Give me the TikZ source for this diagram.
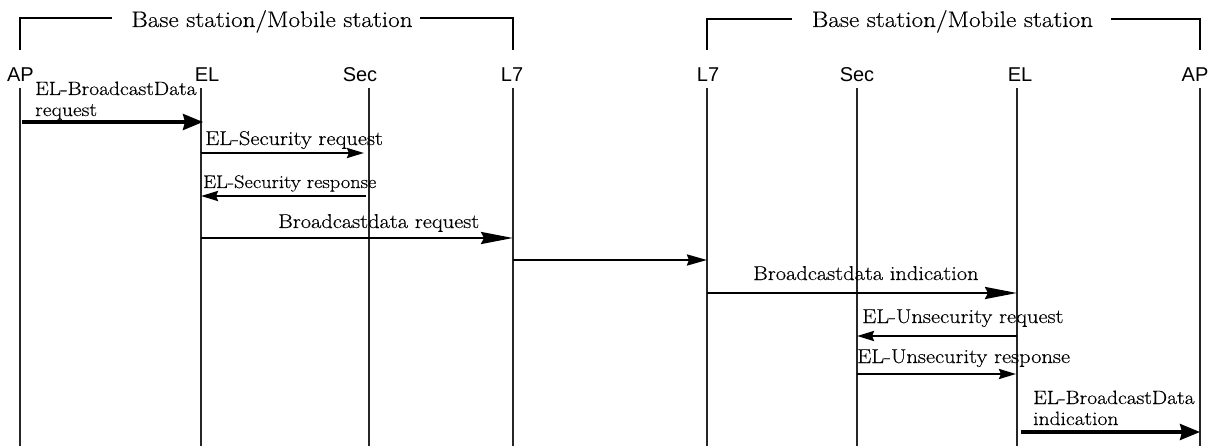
\documentclass[tikz,border=0pt]{standalone}
\usepackage{fontspec}
\newfontfamily\lifefont{Liberation Sans}
\newfontfamily\serifwide{Latin Modern Roman}[FakeStretch=1.12,FakeBold=0.4]
\usetikzlibrary{arrows.meta}

\tikzset{
  lifeline/.style={line width=1.2pt, draw=black!85},
  bracket/.style={line width=1.1pt},
  msg/.style={line width=2.5pt, -{Stealth[length=17pt,width=10pt,inset=2pt]}},
  longmsg/.style={line width=2.5pt, -{Stealth[length=32pt,width=12pt,inset=3pt]}},
  midmsg/.style={line width=2.5pt, -{Stealth[length=20pt,width=11pt,inset=2pt]}},
  bigmsg/.style={line width=3.3pt, -{Stealth[length=20pt,width=16pt,inset=2pt]}},
  entity/.style={font=\lifefont\fontsize{20}{24}\selectfont, inner sep=0pt, anchor=base},
  grouplabel/.style={font=\serifwide\fontsize{22.5}{27}\selectfont, inner sep=0pt, anchor=base},
  msglabel/.style={font=\serifwide\fontsize{20}{24}\selectfont, inner sep=0pt, anchor=base west},
  twolinelabel/.style={font=\serifwide\fontsize{19.2}{23}\selectfont, inner sep=0pt, anchor=base west},
  smalllabel/.style={font=\serifwide\fontsize{18.3}{22}\selectfont, inner sep=0pt, anchor=base west},
}

\begin{document}
\begin{tikzpicture}[x=1pt, y=-1pt]
\useasboundingbox (0,0) rectangle (1212,446);

% group headers with their brackets
\node[grouplabel] (grpL) at (272,27) {Base station/Mobile station};
\node[grouplabel] (grpR) at (952.5,27) {Base station/Mobile station};
\draw[bracket] (20,50) -- (20,18) -- (112,18);
\draw[bracket] (420,18) -- (513,18) -- (513,50);
\draw[bracket] (707,50) -- (707,19) -- (792,19);
\draw[bracket] (1111,19) -- (1200,19) -- (1200,50);

% entity names
\node[entity] (apL)  at (20.5,82) {AP};
\node[entity] (elL)  at (207,82) {EL};
\node[entity] (secL) at (360,82) {Sec};
\node[entity] (l7L)  at (512,82) {L7};
\node[entity] (l7R)  at (708,82) {L7};
\node[entity] (secR) at (857,82) {Sec};
\node[entity] (elR)  at (1020,82) {EL};
\node[entity] (apR)  at (1195,82) {AP};

% lifelines
\foreach \n/\x in {apL/20, elL/201, secL/369, l7L/513, l7R/707, secR/857, elR/1017, apR/1200} {
  \coordinate (\n top) at (\x,88);
  \coordinate (\n bot) at (\x,446);
  \draw[lifeline] (\n top) -- (\n bot);
}

% message end points
\coordinate (m1s) at (22,122);   \coordinate (m1e) at (203,122);
\coordinate (m2s) at (201,153);  \coordinate (m2e) at (364,153);
\coordinate (m3s) at (366,196);  \coordinate (m3e) at (201,196);
\coordinate (m4s) at (201,238);  \coordinate (m4e) at (513,238);
\coordinate (m5s) at (513,260);  \coordinate (m5e) at (707,260);
\coordinate (m6s) at (707,293);  \coordinate (m6e) at (1017,293);
\coordinate (m7s) at (1017,336); \coordinate (m7e) at (857,336);
\coordinate (m8s) at (857,374);  \coordinate (m8e) at (1016,374);
\coordinate (m9s) at (1021,432); \coordinate (m9e) at (1200,432);

% messages
\draw[bigmsg] (m1s) -- (m1e);
\draw[msg] (m2s) -- (m2e);
\draw[msg] (m3s) -- (m3e);
\draw[longmsg] (m4s) -- (m4e);
\draw[midmsg] (m5s) -- (m5e);
\draw[longmsg] (m6s) -- (m6e);
\draw[msg] (m7s) -- (m7e);
\draw[msg] (m8s) -- (m8e);
\draw[bigmsg] (m9s) -- (m9e);

% message labels
\node[twolinelabel] (t1a) at (35,95)   {EL-BroadcastData};
\node[twolinelabel] (t1b) at (35,116)  {request};
\node[msglabel] (t2)  at (205,145) {EL-Security request};
\node[smalllabel] (t3) at (203,188) {EL-Security response};
\node[msglabel] (t4)  at (278,228) {Broadcastdata request};
\node[msglabel] (t6)  at (753,280) {Broadcastdata indication};
\node[msglabel] (t7)  at (862,323) {EL-Unsecurity request};
\node[msglabel] (t8)  at (857,363) {EL-Unsecurity response};
\node[twolinelabel] (t9a) at (1033,404) {EL-BroadcastData};
\node[twolinelabel] (t9b) at (1033,425) {indication};
\end{tikzpicture}
\end{document}
